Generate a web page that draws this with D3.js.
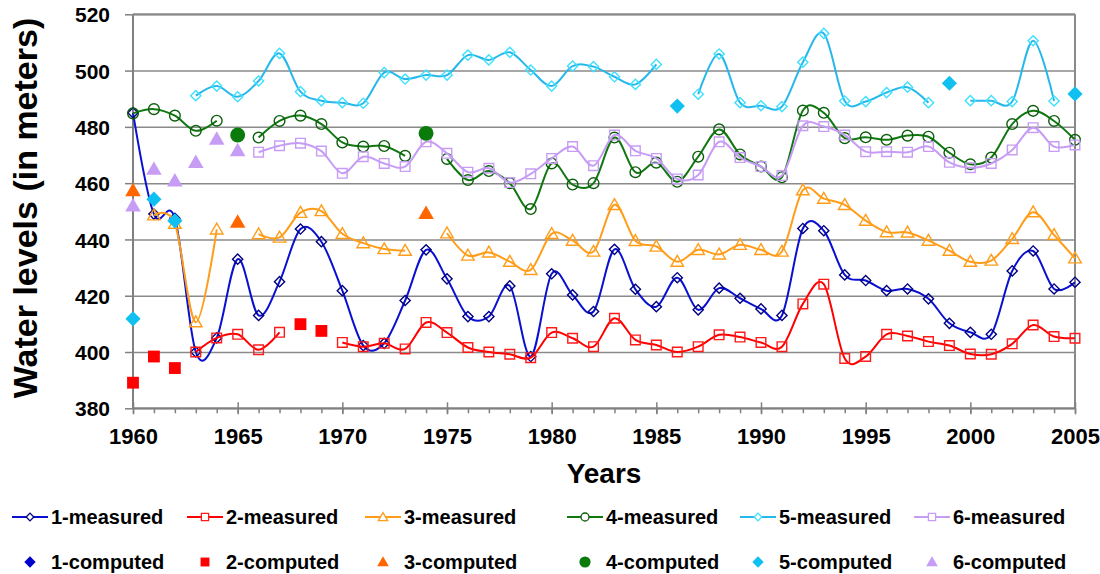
<!DOCTYPE html>
<html>
  <head>
    <script type="text/javascript" src="https://d3js.org/d3.v7.min.js"></script>
    <style type="text/css">

html, body {
  margin: 0;
  background: #fff;
}

svg {
  display: block;
  font-family: "Liberation Sans", Arial, sans-serif;
  font-weight: bold;
}

.axis path {
  display: none;
}

.axis text {
  fill: #000;
  font-family: "Liberation Sans", Arial, sans-serif;
  font-weight: bold;
}

    </style>
  </head>
  <body>
    <div id="chart"></div>
    <script type="text/javascript">

var years = [1960, 1961, 1962, 1963, 1964, 1965, 1966, 1967, 1968, 1969,
    1970, 1971, 1972, 1973, 1974, 1975, 1976, 1977, 1978, 1979,
    1980, 1981, 1982, 1983, 1984, 1985, 1986, 1987, 1988, 1989,
    1990, 1991, 1992, 1993, 1994, 1995, 1996, 1997, 1998, 1999,
    2000, 2001, 2002, 2003, 2004, 2005];

var xTicks = [1960, 1965, 1970, 1975, 1980, 1985, 1990, 1995, 2000, 2005],
    yTicks = [380, 400, 420, 440, 460, 480, 500, 520];

// measured, one value per year (null = no measurement)
var measured1 = [485, 449, 447.5, 400, 405, 433, 413, 425, 443.7, 439.2,
    421.8, 402.3, 403.1, 418.3, 436.3, 426, 412.6, 412.6, 423.5, 398.4,
    427.8, 420.3, 414.4, 436.5, 422.3, 416.1, 426.4, 415, 422.7, 419.1,
    415.3, 413, 443.9, 443.1, 427.4, 425.4, 421.8, 422.4, 418.9, 410.2,
    407, 406.3, 428.8, 435.9, 422.4, 424.8];
var measured2 = [null, null, null, 400, 405, 406.3, 400.8, 407, null, null,
    403.4, 401.9, 403.1, 401.1, 410.5, 406.9, 401.6, 400, 399.2, 398,
    406.9, 404.9, 401.9, 412, 404.3, 402.5, 400, 401.9, 406.1, 405.3,
    403.4, 401.9, 417.1, 424.1, 397.7, 398.4, 406.3, 405.7, 403.7, 402.3,
    399.3, 399.2, 402.9, 409.6, 405.5, 404.9];
var measured3 = [null, 448.6, 445.6, 410.6, 443.6, null, 441.9, 440.7, 449.5, 450.1,
    442, 438.7, 436.6, 436, null, 442.2, 434.3, 435.4, 432.1, 429.2,
    442, 439.6, 435.7, 452.3, 439.5, 437.5, 432.1, 436.3, 434.7, 438.1,
    436.3, 435.7, 457.5, 454.5, 452.3, 446.7, 442.6, 442.5, 439.6, 436,
    432.1, 432.5, 440.2, 449.7, 441.6, 433.3];
var measured4 = [484.8, 486.3, 484, 478.6, 482.2, null, 476.2, 482.1, 484, 481,
    474.5, 473, 473.2, 469.7, null, 468.6, 461.1, 464.3, 460, 450.8,
    467, 459.5, 460, 476.2, 463.9, 467.3, 460.5, 469.4, 479.1, 470.2,
    465.9, 462.1, 485.8, 485, 476, 476.3, 475.4, 476.9, 476.5, 470.8,
    466.7, 469.1, 481, 485.7, 482.1, 475.4];
var measured5 = [null, null, null, 491.1, 494.5, 490.7, 496.3, 506.1, 492.5, 489.3,
    488.6, 488.4, 499.3, 497, 498.4, 498.4, 505.5, 503.8, 506.5, 500.2,
    494.5, 501.6, 501.4, 497.8, 495.1, 502.2, null, 491.6, 505.9, 488.6,
    487.5, 487.2, 503, 513.2, 489.2, 489, 492.2, 494.1, 488.6, null,
    489.3, 489.3, 489, 510.6, 489.2, null];
var measured6 = [null, null, null, null, null, null, 471, 473.3, 474.2, 471.4,
    463.5, 469.4, 467, 465.9, 474.7, 470.6, 463.9, 465.3, 460.2, 463.3,
    468.8, 473, 466.2, 477.1, 471.5, 468.8, 461.5, 462.9, 474.7, 469.1,
    465.9, 462.7, 480.4, 480.1, 477.1, 471.2, 471.2, 471, 473, 467.4,
    465.5, 467, 471.8, 479.7, 473, 473.6];

// computed points: [year, value]
var computed1 = [];
var computed2 = [[1960, 389.1], [1961, 398.4], [1962, 394.3], [1968, 409.9], [1969, 407.5]];
var computed3 = [[1960, 457.3], [1965, 446.1], [1974, 449.2]];
var computed4 = [[1965, 477.1], [1974, 477.7]];
var computed5 = [[1960, 411.8], [1961, 454.3], [1962, 446.6], [1986, 487.4], [1999, 495.5], [2005, 491.7]];
var computed6 = [[1960, 451.9], [1961, 464.9], [1962, 460.8], [1963, 467.3], [1964, 475.6], [1965, 471.5]];

var measuredNames = ["1-measured", "2-measured", "3-measured", "4-measured", "5-measured", "6-measured"],
    computedNames = ["1-computed", "2-computed", "3-computed", "4-computed", "5-computed", "6-computed"];

var width = 1100,
    height = 574,
    plotLeft = 133,
    plotRight = 1075,
    plotTop = 14.3,
    plotBottom = 408.3;

// line colour, marker outline, computed fill, symbol
var styles = [
  {line: "#0a10d0", mark: "#000080", fill: "#0000cc", shape: "diamond"},
  {line: "#ff0000", mark: "#ff1a1a", fill: "#ff0000", shape: "square"},
  {line: "#ff9d1a", mark: "#ff9d1a", fill: "#ff6600", shape: "triangle"},
  {line: "#117711", mark: "#0b5e0b", fill: "#0a7a0a", shape: "circle"},
  {line: "#26b8ea", mark: "#3ee0ff", fill: "#10c0f0", shape: "diamond"},
  {line: "#c79cf5", mark: "#c79cf5", fill: "#c79cf5", shape: "triangle"}
];
// series 6 uses hollow squares for measured points
var measuredShapes = ["diamond", "square", "triangle", "circle", "diamond", "square"];

var measured = [measured1, measured2, measured3, measured4, measured5, measured6],
    computed = [computed1, computed2, computed3, computed4, computed5, computed6];

var x = d3.scaleLinear().domain([1960, 2005]).range([plotLeft, plotRight]),
    y = d3.scaleLinear().domain([380, 520]).range([plotBottom, plotTop]);

var svg = d3.select("#chart").append("svg")
    .attr("width", width)
    .attr("height", height);

// marker shapes, hollow ones a bit smaller than filled ones…
function symbolPath(shape, big, scale) {
  scale = scale || 1;
  var type = d3.symbolSquare, size;
  if (shape == "diamond") size = big ? 115 : 52;
  if (shape == "square") size = big ? 140 : 92;
  if (shape == "triangle") { type = d3.symbolTriangle; size = big ? 105 : 68; }
  if (shape == "circle") { type = d3.symbolCircle; size = big ? 175 : 90; }
  return d3.symbol().type(type).size(size * scale * scale)();
}

function symbolTransform(shape, px, py) {
  var t = "translate(" + px + "," + py + ")";
  if (shape == "diamond") t += " rotate(45)";
  if (shape == "triangle") t += " translate(0,1)";
  return t;
}

// gridlines
svg.append("g")
    .attr("class", "axis")
    .attr("transform", "translate(" + plotLeft + ",0)")
    .call(d3.axisLeft(y).tickValues(yTicks).tickSize(-(plotRight - plotLeft)).tickFormat(""))
  .selectAll("line")
    .attr("stroke", "#8a8a8a")
    .attr("stroke-width", 1.5);

// y ticks outside and labels
var yAxis = svg.append("g")
    .attr("class", "axis")
    .attr("transform", "translate(" + plotLeft + ",0)")
    .call(d3.axisLeft(y).tickValues(yTicks).tickSize(8).tickPadding(15));
yAxis.selectAll("line").attr("stroke", "#808080").attr("stroke-width", 1.5);
yAxis.selectAll("text").style("font-size", "21px").attr("dy", "0.36em");

// frame: left axis, right border, top border
svg.append("line")
    .attr("x1", plotLeft).attr("x2", plotLeft)
    .attr("y1", plotTop).attr("y2", plotBottom)
    .attr("stroke", "#808080").attr("stroke-width", 2);
svg.append("line")
    .attr("x1", plotRight).attr("x2", plotRight)
    .attr("y1", plotTop).attr("y2", plotBottom)
    .attr("stroke", "#8a8a8a").attr("stroke-width", 2);
svg.append("line")
    .attr("x1", plotLeft).attr("x2", plotRight)
    .attr("y1", plotTop).attr("y2", plotTop)
    .attr("stroke", "#8a8a8a").attr("stroke-width", 2);

// minor ticks every year, major ticks crossing the axis
svg.append("g")
    .attr("class", "axis")
    .attr("transform", "translate(0," + plotBottom + ")")
    .call(d3.axisBottom(x).tickValues(years).tickSize(5).tickFormat(""))
  .selectAll("line")
    .attr("stroke", "#808080").attr("stroke-width", 1.5);

var xAxis = svg.append("g")
    .attr("class", "axis")
    .attr("transform", "translate(0," + plotBottom + ")")
    .call(d3.axisBottom(x).tickValues(xTicks).tickSize(6).tickPadding(14).tickFormat(d3.format("d")));
xAxis.selectAll("line")
    .attr("y1", -6)
    .attr("stroke", "#808080").attr("stroke-width", 1.5);
xAxis.selectAll("text").style("font-size", "22px");

svg.append("line")
    .attr("x1", plotLeft).attr("x2", plotRight)
    .attr("y1", plotBottom).attr("y2", plotBottom)
    .attr("stroke", "#808080").attr("stroke-width", 2);

// axis titles
svg.append("text")
    .attr("x", (plotLeft + plotRight) / 2)
    .attr("y", 483)
    .attr("text-anchor", "middle")
    .style("font-size", "28px")
    .text("Years");

svg.append("text")
    .attr("transform", "translate(37,208) rotate(-90)")
    .attr("text-anchor", "middle")
    .style("font-size", "34px")
    .text("Water levels (in meters)");

// measured series, smoothed like the spreadsheet did it
var line = d3.line()
    .defined(function(d) { return d[1] != null; })
    .x(function(d) { return x(d[0]); })
    .y(function(d) { return y(d[1]); })
    .curve(d3.curveCardinal.tension(0));

var plot = svg.append("g");

measured.forEach(function(values, i) {
  var s = styles[i],
      shape = measuredShapes[i],
      pts = years.map(function(yr, j) { return [yr, values[j]]; });

  plot.append("path")
      .attr("d", line(pts))
      .attr("fill", "none")
      .attr("stroke", s.line)
      .attr("stroke-width", 2);

  plot.selectAll("path.m" + i)
      .data(pts.filter(function(d) { return d[1] != null; }))
    .enter().append("path")
      .attr("class", "m" + i)
      .attr("d", symbolPath(shape, false))
      .attr("transform", function(d) { return symbolTransform(shape, x(d[0]), y(d[1])); })
      .attr("fill", "none")
      .attr("stroke", s.mark)
      .attr("stroke-width", 1.4);
});

computed.forEach(function(values, i) {
  var s = styles[i];
  plot.selectAll("path.c" + i)
      .data(values)
    .enter().append("path")
      .attr("class", "c" + i)
      .attr("d", symbolPath(s.shape, true))
      .attr("transform", function(d) { return symbolTransform(s.shape, x(d[0]), y(d[1])); })
      .attr("fill", s.fill);
});

// legend, two rows
var legendX = [30, 205, 383, 585, 758, 932];

var legend = svg.append("g");

measuredNames.forEach(function(name, i) {
  var s = styles[i], shape = measuredShapes[i], cx = legendX[i], cy = 517;
  legend.append("line")
      .attr("x1", cx - 18).attr("x2", cx + 18)
      .attr("y1", cy).attr("y2", cy)
      .attr("stroke", s.line).attr("stroke-width", 2);
  legend.append("path")
      .attr("d", symbolPath(shape, false, 0.75))
      .attr("transform", symbolTransform(shape, cx, cy))
      .attr("fill", "#fff")
      .attr("stroke", s.mark)
      .attr("stroke-width", 1.3);
  legend.append("text")
      .attr("x", cx + 21).attr("y", cy + 7)
      .style("font-size", "20px")
      .text(name);
});

computedNames.forEach(function(name, i) {
  var s = styles[i], cx = legendX[i], cy = 562;
  legend.append("path")
      .attr("d", symbolPath(s.shape, true, 0.75))
      .attr("transform", symbolTransform(s.shape, cx, cy))
      .attr("fill", s.fill);
  legend.append("text")
      .attr("x", cx + 21).attr("y", cy + 7)
      .style("font-size", "20px")
      .text(name);
});

    </script>
  </body>
</html>
